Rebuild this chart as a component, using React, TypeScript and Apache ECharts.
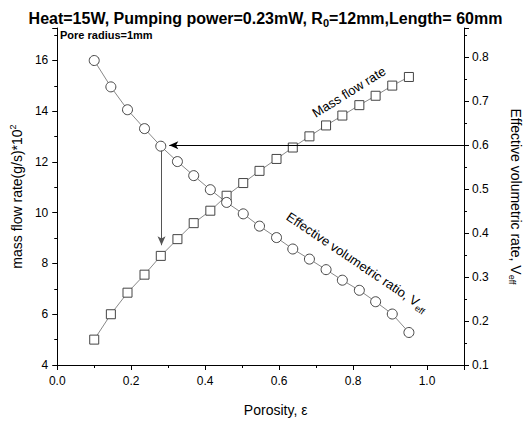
import React, { useEffect, useRef } from "react";
import * as echarts from "echarts";

const porosity = [0.100, 0.145, 0.190, 0.236, 0.280, 0.325, 0.369, 0.414, 0.458, 0.503, 0.547, 0.593, 0.637, 0.682, 0.727, 0.771, 0.817, 0.861, 0.906, 0.951];
const massFlow = [5.0, 6.0, 6.85, 7.56, 8.30, 8.96, 9.59, 10.08, 10.67, 11.17, 11.65, 12.12, 12.57, 13.01, 13.44, 13.83, 14.24, 14.61, 15.01, 15.35];
const effRatio = [0.793, 0.733, 0.681, 0.638, 0.598, 0.563, 0.531, 0.499, 0.470, 0.444, 0.416, 0.390, 0.364, 0.341, 0.317, 0.293, 0.270, 0.244, 0.216, 0.174];

const FONT = "Arial, 'Liberation Sans', sans-serif";

export default function App() {
  const ref = useRef<HTMLDivElement>(null);
  useEffect(() => {
    if (!ref.current) return;
    const chart = echarts.init(ref.current, undefined, { renderer: "svg" });
    const axisCommon = {
      axisLine: { show: true, onZero: false, lineStyle: { color: "#000", width: 1 } },
      axisTick: { show: true, inside: false, length: 5, lineStyle: { color: "#000" } },
      minorTick: { show: true, splitNumber: 2, length: 3, lineStyle: { color: "#000" } },
      splitLine: { show: false },
      minorSplitLine: { show: false },
    };
    chart.setOption({
      animation: false,
      backgroundColor: "#fff",
      textStyle: { fontFamily: FONT },
      title: {
        text: "{a|Heat=15W, Pumping power=0.23mW, R}{s|0}{a|=12mm,Length= 60mm}",
        left: "center",
        top: 3,
        textStyle: {
          rich: {
            a: { fontSize: 16, fontWeight: "bold", color: "#000", fontFamily: FONT, lineHeight: 20 },
            s: { fontSize: 11, fontWeight: "bold", color: "#000", fontFamily: FONT, verticalAlign: "bottom", lineHeight: 16 },
          },
        },
      },
      grid: { left: 54, right: 57, top: 28, bottom: 55 },
      xAxis: {
        type: "value",
        min: 0,
        max: 1.1,
        interval: 0.2,
        ...axisCommon,
        axisLabel: {
          color: "#000",
          fontSize: 12,
          margin: 10,
          showMaxLabel: false,
          formatter: (v: number) => v.toFixed(1),
        },
        name: "Porosity, ε",
        nameLocation: "middle",
        nameGap: 38,
        nameTextStyle: { color: "#000", fontSize: 14, padding: [0, 0, 0, 30] },
      },
      yAxis: [
        {
          type: "value",
          position: "left",
          min: 4,
          max: 17.28,
          interval: 2,
          ...axisCommon,
          axisLabel: { color: "#000", fontSize: 12, margin: 9, showMaxLabel: false },
          name: "{a|mass flow rate(g/s)*10}{p|2}",
          nameLocation: "middle",
          nameGap: 30,
          nameTextStyle: {
            rich: {
              a: { fontSize: 14, color: "#000", fontFamily: FONT, lineHeight: 18 },
              p: { fontSize: 9, color: "#000", fontFamily: FONT, verticalAlign: "top", lineHeight: 18 },
            },
          },
        },
        {
          type: "value",
          position: "right",
          min: 0.1,
          max: 0.867,
          interval: 0.1,
          ...axisCommon,
          axisLabel: {
            color: "#000",
            fontSize: 12,
            margin: 8,
            showMaxLabel: false,
            formatter: (v: number) => v.toFixed(1),
          },
          name: "{a|Effective volumetric rate, V}{s|eff}",
          nameLocation: "middle",
          nameRotate: -90,
          nameGap: 43,
          nameTextStyle: {
            rich: {
              a: { fontSize: 14, color: "#000", fontFamily: FONT, lineHeight: 18 },
              s: { fontSize: 9, color: "#000", fontFamily: FONT, verticalAlign: "bottom", lineHeight: 18 },
            },
          },
        },
      ],
      series: [
        {
          name: "Mass flow rate",
          type: "line",
          yAxisIndex: 0,
          data: porosity.map((x, i) => [x, massFlow[i]]),
          symbol: "rect",
          symbolSize: 9,
          showAllSymbol: true,
          lineStyle: { color: "#888", width: 1 },
          itemStyle: { color: "#fff", borderColor: "#444", borderWidth: 1 },
          markLine: {
            silent: true,
            symbol: ["none", "arrow"],
            symbolSize: [6, 9],
            label: { show: false },
            lineStyle: { color: "#555", width: 1, type: "solid" },
            data: [[{ coord: [0.282, 12.45] }, { coord: [0.282, 8.72] }]],
          },
        },
        {
          name: "Effective volumetric ratio",
          type: "line",
          yAxisIndex: 1,
          data: porosity.map((x, i) => [x, effRatio[i]]),
          symbol: "circle",
          symbolSize: 10,
          showAllSymbol: true,
          lineStyle: { color: "#888", width: 1 },
          itemStyle: { color: "#fff", borderColor: "#444", borderWidth: 1 },
          markLine: {
            silent: true,
            symbol: ["none", "arrow"],
            symbolSize: [6, 9],
            label: { show: false },
            lineStyle: { color: "#000", width: 1, type: "solid" },
            data: [[{ coord: [1.1, 0.6] }, { coord: [0.303, 0.6] }]],
          },
        },
      ],
      graphic: [
        {
          type: "text",
          x: 60,
          y: 35,
          style: { text: "Pore radius=1mm", fontSize: 11, fontWeight: "bold", fill: "#000", fontFamily: FONT, textVerticalAlign: "middle" },
        },
        {
          type: "text",
          x: 349,
          y: 92,
          rotation: (32 * Math.PI) / 180,
          style: { text: "Mass flow rate", fontSize: 13, fill: "#000", fontFamily: FONT, textAlign: "center", textVerticalAlign: "middle" },
        },
        {
          type: "text",
          x: 357,
          y: 262,
          rotation: (-34 * Math.PI) / 180,
          style: {
            text: "{a|Effective volumetric ratio, V}{s|eff}",
            textAlign: "center",
            textVerticalAlign: "middle",
            rich: {
              a: { fontSize: 13, fill: "#000", fontFamily: FONT, lineHeight: 18 },
              s: { fontSize: 9, fill: "#000", fontFamily: FONT, verticalAlign: "bottom", lineHeight: 18 },
            },
          },
        },
      ],
    });
    return () => chart.dispose();
  }, []);
  return <div ref={ref} style={{ position: "fixed", left: 0, top: 0, width: 531, height: 422 }} />;
}
